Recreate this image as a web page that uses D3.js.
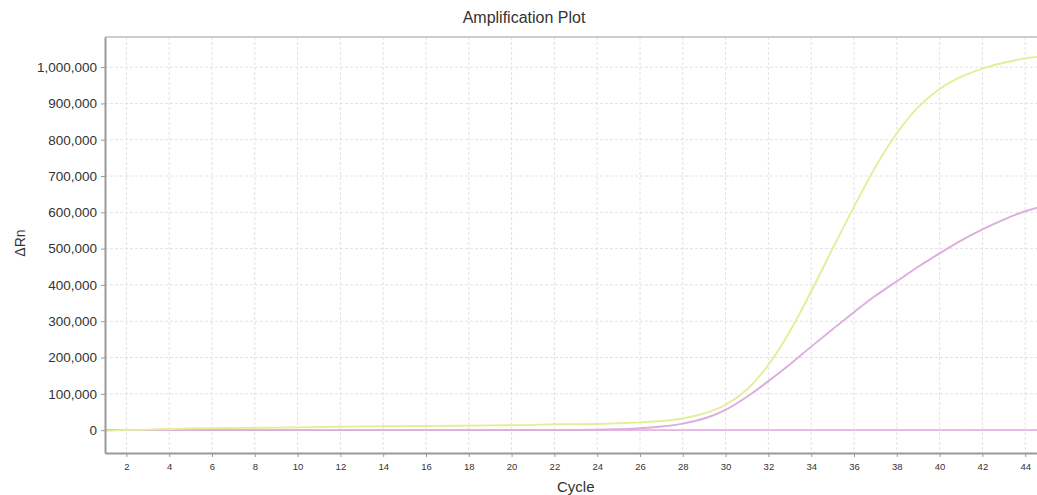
<!DOCTYPE html>
<html lang="en">
<head>
  <meta charset="UTF-8" />
  <title>Amplification Plot</title>
  <style>
    body { margin: 0; background: #fff; font-family: "Liberation Sans", Arial, sans-serif; }
    svg { display: block; }
    .grid line { stroke: #e2e2e2; stroke-width: 1px; stroke-dasharray: 3,2; }
    .axis path, .axis line { stroke: #9a9a9a; }
    .axis text { fill: #333; }
    .series { fill: none; stroke-width: 1.9px; }
  </style>
  <script src="https://d3js.org/d3.v7.min.js"></script>
</head>
<body>
  <svg id="chart" width="1037" height="495"></svg>
  <script>
    // ---------- data ----------
    const cycles = d3.range(1, 46);
    const yTicks = [0, 100000, 200000, 300000, 400000, 500000, 600000, 700000, 800000, 900000, 1000000];
    const xTicks = d3.range(2, 46, 2);

    // yellow sample
    const sampleA = [-2000, 0, 1500, 3000, 4500, 5500, 6000, 6500, 7000, 7500, 8500, 9500, 10000, 10500, 11000, 11500, 12000, 12500, 13000, 13500, 14500, 16000, 16500, 17000, 19000, 21500, 25000, 32000, 46000, 70000, 112000, 180000, 272000, 382000, 500000, 615000, 725000, 818000, 890000, 940000, 973000, 996000, 1012000, 1024000, 1031000];
    // pink sample
    const sampleB = [0, 0, 0, 0, 0, 0, 0, 0, 0, 0, 0, 0, 0, 0, 0, 0, 0, 0, 0, 0, 0, 0, 500, 1000, 2500, 5000, 10000, 18000, 32000, 56000, 92000, 135000, 181000, 230000, 278000, 325000, 370000, 410000, 450000, 487000, 522000, 553000, 580000, 603000, 620000];
    // flat baselines (negative / no-template)
    const flatYellow = [0, 0, 0, 0, 0, 0, 0, 0, 0, 0, 0, 0, 0, 0, 0, 0, 0, 0, 0, 0, 0, 0, 0, 0, 0, 0, 0, 0, 0, 0, 0, 0, 0, 0, 0, 0, 0, 0, 0, 0, 1500, 0, 0, 0, 0];
    const flatPink = [0, 0, 0, 0, 0, 0, 0, 0, 0, 0, 0, 0, 0, 0, 0, 0, 0, 0, 0, 0, 0, 0, 0, 0, 0, 0, 0, 0, 0, 0, 0, 0, 0, 0, 0, 0, 0, 0, 0, 0, 0, 0, 0, 0, 0];

    const seriesList = [
      { name: "flatYellow", values: flatYellow, color: "#e9efa6" },
      { name: "flatPink",   values: flatPink,   color: "#e6b6e4" },
      { name: "sampleB",    values: sampleB,    color: "#dcaede" },
      { name: "sampleA",    values: sampleA,    color: "#e4ee98" }
    ];

    // ---------- layout ----------
    const svg = d3.select("#chart");
    const plotLeft = 105, plotTop = 37, plotBottom = 453;

    const x = d3.scaleLinear().domain([1, 45]).range([plotLeft, plotLeft + 44 * 21.4]);
    const y = d3.scaleLinear().domain([-63000, 1083000]).range([plotBottom, plotTop]);

    // grid
    const grid = svg.append("g").attr("class", "grid");
    grid.selectAll("line.v")
      .data(xTicks)
      .enter().append("line")
      .attr("x1", d => x(d)).attr("x2", d => x(d))
      .attr("y1", plotTop).attr("y2", plotBottom);
    grid.selectAll("line.h")
      .data(yTicks)
      .enter().append("line")
      .attr("x1", plotLeft).attr("x2", x(45))
      .attr("y1", d => y(d)).attr("y2", d => y(d));

    // top border
    svg.append("line")
      .attr("x1", plotLeft).attr("x2", x(45))
      .attr("y1", plotTop).attr("y2", plotTop)
      .attr("stroke", "#bdbdbd").attr("stroke-width", 1.5);

    // series
    const line = d3.line()
      .x((d, i) => x(cycles[i]))
      .y(d => y(d))
      .curve(d3.curveCatmullRom.alpha(0.5));

    svg.append("g")
      .selectAll("path")
      .data(seriesList)
      .enter().append("path")
      .attr("class", "series")
      .attr("stroke", d => d.color)
      .attr("d", d => line(d.values));

    // axes
    const xAxis = svg.append("g")
      .attr("class", "axis")
      .attr("transform", `translate(0,${plotBottom})`)
      .call(d3.axisBottom(x).tickValues(xTicks).tickSize(4).tickPadding(6).tickSizeOuter(0));
    xAxis.select(".domain").attr("stroke-width", 2);
    xAxis.selectAll("text").style("font-size", "9.5px");

    const yAxis = svg.append("g")
      .attr("class", "axis")
      .attr("transform", `translate(${plotLeft},0)`)
      .call(d3.axisLeft(y).tickValues(yTicks).tickSize(4).tickPadding(4).tickSizeOuter(0)
        .tickFormat(d3.format(",")));
    yAxis.select(".domain").attr("stroke-width", 2);
    yAxis.selectAll("text").style("font-size", "13.5px");

    // titles
    svg.append("text")
      .attr("x", 524).attr("y", 23)
      .attr("text-anchor", "middle")
      .attr("font-size", 16).attr("fill", "#333")
      .text("Amplification Plot");

    svg.append("text")
      .attr("x", x(23)).attr("y", 492)
      .attr("text-anchor", "middle")
      .attr("font-size", 15).attr("fill", "#333")
      .text("Cycle");

    svg.append("text")
      .attr("transform", "translate(25,243) rotate(-90)")
      .attr("text-anchor", "middle")
      .attr("font-size", 14).attr("fill", "#333")
      .text("ΔRn");
  </script>
</body>
</html>
